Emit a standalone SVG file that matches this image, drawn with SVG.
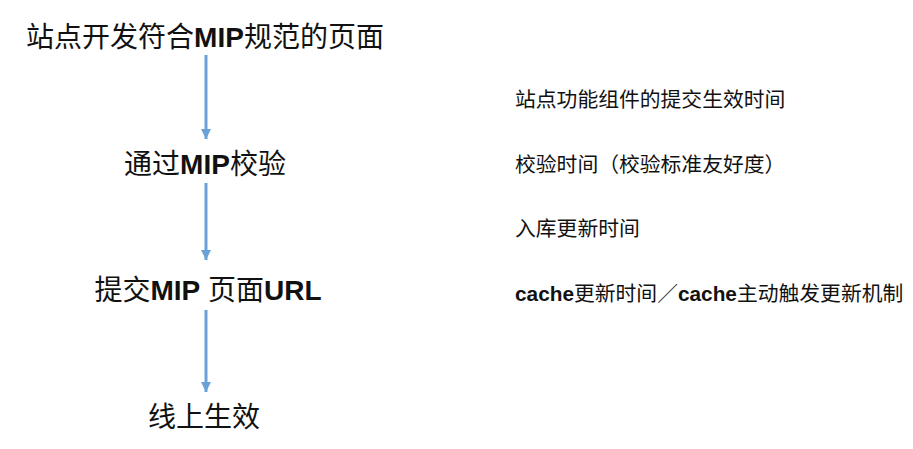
<svg xmlns="http://www.w3.org/2000/svg" width="913" height="449" viewBox="0 0 913 449">
<style>
.main{font-family:"Liberation Sans","Noto Sans CJK SC",sans-serif;font-size:28px;fill:#111;text-anchor:middle}
.note{font-family:"Liberation Sans","Noto Sans CJK SC",sans-serif;font-size:20.8px;fill:#111}
.b{font-weight:bold}
.conn{stroke:#6AA2D8;stroke-width:3;fill:none}
</style>
<defs>
<marker id="ah" viewBox="0 0 10 10" refX="10" refY="5" markerWidth="10" markerHeight="10" markerUnits="userSpaceOnUse" orient="auto">
<path d="M0,0 L10,5 L0,10 z" fill="#6AA2D8"/>
</marker>
</defs>
<rect width="913" height="449" fill="#fff"/>
<g id="connectors">
<line class="conn" x1="206" y1="55" x2="206" y2="139" marker-end="url(#ah)"/>
<line class="conn" x1="206" y1="183" x2="206" y2="260" marker-end="url(#ah)"/>
<line class="conn" x1="206" y1="310" x2="206" y2="392" marker-end="url(#ah)"/>
</g>
<g id="n1"><text class="main" x="205" y="47">站点开发符合<tspan class="b">MIP</tspan>规范的页面</text></g>
<g id="n2"><text class="main" x="205" y="174">通过<tspan class="b">MIP</tspan>校验</text></g>
<g id="n3"><text class="main" x="208" y="300">提交<tspan class="b">MIP</tspan> 页面<tspan class="b">URL</tspan></text></g>
<g id="n4"><text class="main" x="204" y="427">线上生效</text></g>
<g id="notes">
<text class="note" x="515" y="107">站点功能组件的提交生效时间</text>
<text class="note" x="515" y="172">校验时间（校验标准友好度）</text>
<text class="note" x="515" y="236">入库更新时间</text>
<text class="note" x="515" y="301"><tspan class="b">cache</tspan>更新时间／<tspan class="b">cache</tspan>主动触发更新机制</text>
</g>
</svg>
